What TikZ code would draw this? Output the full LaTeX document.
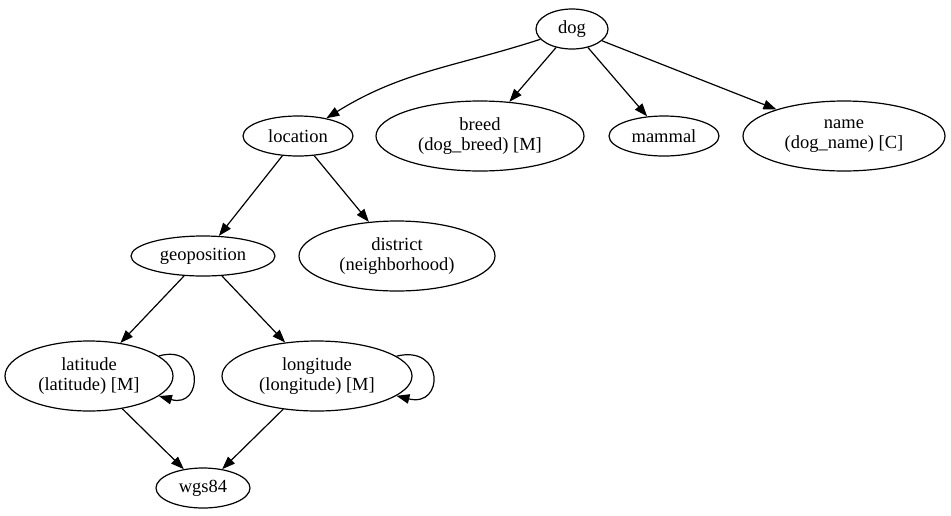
\documentclass[tikz,border=0pt]{standalone}
\usepackage{fontspec}
\setmainfont{Liberation Serif}
\usetikzlibrary{arrows.meta,shapes.geometric}

\begin{document}
\begin{tikzpicture}[x=1pt, y=-1pt, >={Triangle[length=13pt,width=9.5pt]}, line width=1.2pt]
	    \tikzstyle{oval}=[draw=black, ellipse, inner sep=0pt, align=center, font=\fontsize{18.5}{20}\selectfont]
	    \tikzstyle{small}=[oval, minimum height=40pt]
	    \tikzstyle{big}=[oval, minimum height=70pt]
	    \useasboundingbox (0,0) rectangle (951,515);
	    
	    \node[small, minimum width=72pt] (dog) at (572,29) {dog};
	    \node[small, minimum width=110pt] (location) at (298,136) {location};
	    \node[big, minimum width=208pt] (breed) at (480,136) {breed\\(dog\_breed) [M]};
	    \node[small, minimum width=110pt] (mammal) at (664,136) {mammal};
	    \node[big, minimum width=202pt] (name) at (844,136) {name\\(dog\_name) [C]};
	    \node[small, minimum width=144pt] (geoposition) at (203,256) {geoposition};
	    \node[big, minimum width=196pt] (district) at (397,256) {district\\(neighborhood)};
	    \node[big, minimum width=168pt] (latitude) at (89,376) {latitude\\(latitude) [M]};
	    \node[big, minimum width=190pt] (longitude) at (317,376) {longitude\\(longitude) [M]};
	    \node[small, minimum width=94pt] (wgs84) at (203,488) {wgs84};
	    
	    \path[->]
	    (dog)         edge [out=198, in=32]               (location)
	    (dog)         edge                                (breed)
	    (dog)         edge                                (mammal)
	    (dog)         edge                                (name)
	    
	    (location)    edge                                (geoposition)
	    (location)    edge                                (district)
	    
	    (geoposition) edge                                (latitude)
	    (geoposition) edge                                (longitude)
	    
	    (latitude)    edge [out=16, in=-16, looseness=3] (latitude)
	    (longitude)   edge [out=14, in=-14, looseness=3.2] (longitude)
	    (latitude)    edge                                (wgs84)
	    (longitude)   edge                                (wgs84)
	    ;
    
\end{tikzpicture}
\end{document}
